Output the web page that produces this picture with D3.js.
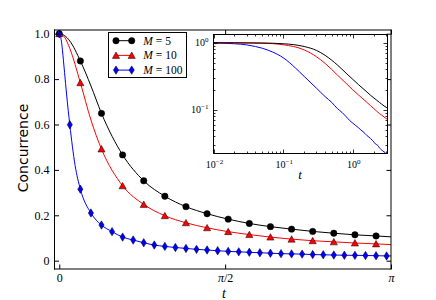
<!DOCTYPE html>
<html>
<head>
<meta charset="utf-8">
<script src="https://cdn.jsdelivr.net/npm/d3@7"></script>
<style>
  body { margin: 0; background: #fff; }
  svg { display: block; }
</style>
</head>
<body>
<svg id="chart" width="436" height="300"></svg>
<script>
// marker readings, M=5 and M=10 share the same t grid
var tMarks = [0, 0.2, 0.4, 0.6, 0.8, 1.0, 1.2, 1.4, 1.6, 1.8, 2.0, 2.2, 2.4, 2.6, 2.8, 3.0];
var concM5 = [1.0, 0.880, 0.649, 0.466, 0.352, 0.284, 0.238, 0.207, 0.183, 0.164, 0.150, 0.139, 0.129, 0.121, 0.114, 0.109];
var concM10 = [1.0, 0.784, 0.492, 0.330, 0.248, 0.198, 0.167, 0.145, 0.128, 0.115, 0.104, 0.095, 0.088, 0.083, 0.078, 0.074];
var tMarks100 = [0, 0.1, 0.2, 0.3, 0.4, 0.5, 0.6, 0.7, 0.8, 0.9, 1.0, 1.1, 1.2, 1.3, 1.4, 1.5,
                 1.6, 1.7, 1.8, 1.9, 2.0, 2.1, 2.2, 2.3, 2.4, 2.5, 2.6, 2.7, 2.8, 2.9, 3.0, 3.1];
var concM100 = [1.0, 0.599, 0.315, 0.210, 0.157, 0.128, 0.104, 0.091, 0.079, 0.069, 0.063, 0.058, 0.054, 0.050, 0.047, 0.044,
                0.041, 0.039, 0.037, 0.035, 0.033, 0.031, 0.030, 0.029, 0.027, 0.026, 0.025, 0.024, 0.0235, 0.023, 0.022, 0.021];

// extra readings of the solid curves between / beyond the markers
var lineT5 = [0.01, 0.02, 0.05, 0.1, 0.3, Math.PI];
var lineC5 = [1.0, 0.999, 0.992, 0.968, 0.77, 0.105];
var lineT10 = [0.01, 0.02, 0.05, 0.1, 0.3, Math.PI];
var lineC10 = [1.0, 0.998, 0.985, 0.935, 0.62, 0.071];
var lineT100 = [0.01, 0.02, 0.03, 0.04, 0.05, 0.07, 0.15, Math.PI];
var lineC100 = [0.992, 0.968, 0.93, 0.88, 0.83, 0.73, 0.42, 0.021];

var legendLabels = ["5", "10", "100"];
var yTicks = [0, 0.2, 0.4, 0.6, 0.8, 1.0];
var xTicks = [0, Math.PI / 2, Math.PI];
var xTickLabels = ["0", "π/2", "π"];

var series = [
  { t: tMarks, c: concM5, lt: lineT5, lc: lineC5, color: "#000000", marker: "circle" },
  { t: tMarks, c: concM10, lt: lineT10, lc: lineC10, color: "#ff0000", marker: "triangle" },
  { t: tMarks100, c: concM100, lt: lineT100, lc: lineC100, color: "#0000ff", marker: "diamond" }
];
series.forEach(function (s) {
  s.marks = d3.zip(s.t, s.c);
  s.line = s.marks.concat(d3.zip(s.lt, s.lc)).sort(function (a, b) { return a[0] - b[0]; });
});

var svg = d3.select("#chart");
var serif = "'Liberation Serif', 'DejaVu Serif', serif";

// main axes
var x = d3.scaleLinear().domain([-0.045, Math.PI]).range([54.5, 391]);
var y = d3.scaleLinear().domain([-0.0366, 1.0163]).range([269, 30]);

function markerPath(kind) {
  if (kind === "circle") return d3.symbol(d3.symbolCircle, Math.PI * 3.2 * 3.2)();
  if (kind === "triangle") return "M0,-3.4L3.6,3L-3.6,3Z";
  return "M0,-4.2L2.6,0L0,4.2L-2.6,0Z";
}

svg.append("clipPath").attr("id", "mainClip")
  .append("rect").attr("x", 54.5).attr("y", 30).attr("width", 391 - 54.5).attr("height", 269 - 30);

var line = d3.line()
  .x(function (d) { return x(d[0]); })
  .y(function (d) { return y(d[1]); })
  .curve(d3.curveMonotoneX);

var plot = svg.append("g").attr("clip-path", "url(#mainClip)");
series.forEach(function (s) {
  plot.append("path").datum(s.line)
    .attr("d", line)
    .attr("fill", "none")
    .attr("stroke", s.color)
    .attr("stroke-width", 1);
});
series.forEach(function (s) {
  plot.selectAll(null).data(s.marks).enter().append("path")
    .attr("d", markerPath(s.marker))
    .attr("transform", function (d) { return "translate(" + x(d[0]) + "," + y(d[1]) + ")"; })
    .attr("fill", s.color)
    .attr("stroke", "#000")
    .attr("stroke-width", 0.5);
});

// ticks (inward, on all four sides)
function styleAxis(g) {
  g.select(".domain").remove();
  g.selectAll("text").attr("font-family", serif).attr("font-size", 12).attr("fill", "#000");
  g.selectAll("line").attr("stroke", "#000");
}
svg.append("g").attr("transform", "translate(54.5,0)")
  .call(d3.axisLeft(y).tickValues(yTicks).tickSize(-4.5).tickPadding(5)
    .tickFormat(function (d) { return d === 0 ? "0" : d.toFixed(1); }))
  .call(styleAxis);
svg.append("g").attr("transform", "translate(391,0)")
  .call(d3.axisRight(y).tickValues(yTicks).tickSize(-4.5).tickFormat(""))
  .call(styleAxis);
var xAxisG = svg.append("g").attr("transform", "translate(0,269)")
  .call(d3.axisBottom(x).tickValues(xTicks).tickSize(-4.5).tickPadding(4).tickFormat(""))
  .call(styleAxis);
svg.append("g").attr("transform", "translate(0,30)")
  .call(d3.axisTop(x).tickValues(xTicks).tickSize(-4.5).tickFormat(""))
  .call(styleAxis);

xAxisG.selectAll(".tick").each(function (d, i) {
  var txt = d3.select(this).append("text")
    .attr("y", 12.5).attr("text-anchor", "middle")
    .attr("font-family", serif).attr("font-size", 12).attr("fill", "#000");
  var lab = xTickLabels[i];
  if (lab.charAt(0) === "π") {
    txt.append("tspan").attr("font-style", "italic").text("π");
    if (lab.length > 1) txt.append("tspan").text(lab.slice(1));
  } else {
    txt.text(lab);
  }
});

// spines
svg.append("line").attr("x1", 54.5).attr("x2", 54.5).attr("y1", 29.5).attr("y2", 269.5).attr("stroke", "#000");
svg.append("line").attr("x1", 54).attr("x2", 391.5).attr("y1", 269).attr("y2", 269).attr("stroke", "#000");
svg.append("line").attr("x1", 54).attr("x2", 391.5).attr("y1", 30).attr("y2", 30).attr("stroke", "#000");
svg.append("line").attr("x1", 391).attr("x2", 391).attr("y1", 29.5).attr("y2", 269.5).attr("stroke", "#000");

// axis labels
svg.append("text")
  .attr("transform", "translate(27.5,148) rotate(-90)")
  .attr("text-anchor", "middle")
  .attr("font-family", "'DejaVu Sans', sans-serif").attr("font-size", 14)
  .text("Concurrence");
svg.append("text")
  .attr("x", 224).attr("y", 298)
  .attr("text-anchor", "middle")
  .attr("font-family", serif).attr("font-size", 14).attr("font-style", "italic")
  .text("t");

// legend
var leg = svg.append("g");
leg.append("rect").attr("x", 108.5).attr("y", 32.5).attr("width", 78).attr("height", 45)
  .attr("fill", "#fff").attr("stroke", "#000").attr("stroke-width", 1);
series.forEach(function (s, i) {
  var ly = 40.7 + i * 14.7;
  leg.append("line").attr("x1", 116).attr("x2", 131.7).attr("y1", ly).attr("y2", ly)
    .attr("stroke", s.color).attr("stroke-width", 1);
  [116, 131.7].forEach(function (lx) {
    leg.append("path").attr("d", markerPath(s.marker))
      .attr("transform", "translate(" + lx + "," + ly + ")")
      .attr("fill", s.color).attr("stroke", "#000").attr("stroke-width", 0.5);
  });
  var t = leg.append("text").attr("x", 143.3).attr("y", ly + 4)
    .attr("font-family", serif).attr("font-size", 11.5);
  t.append("tspan").attr("font-style", "italic").text("M");
  t.append("tspan").text(" = " + legendLabels[i]);
});

// inset, log-log
var ix = d3.scaleLog().domain([0.01, Math.PI]).range([213.5, 387.5]);
var iy = d3.scaleLog().domain([0.0222, 1.33]).range([153.5, 34.5]);

var inset = svg.append("g");
inset.append("rect").attr("x", 213.5).attr("y", 34.5).attr("width", 174).attr("height", 119)
  .attr("fill", "#fff");
svg.append("clipPath").attr("id", "insetClip")
  .append("rect").attr("x", 213.5).attr("y", 34.5).attr("width", 174).attr("height", 119);

var iline = d3.line()
  .x(function (d) { return ix(d[0]); })
  .y(function (d) { return iy(d[1]); })
  .curve(d3.curveMonotoneX);
var ig = inset.append("g").attr("clip-path", "url(#insetClip)");
series.slice().reverse().forEach(function (s) {
  ig.append("path").datum(s.line.filter(function (d) { return d[0] >= 0.01; }))
    .attr("d", iline)
    .attr("fill", "none")
    .attr("stroke", s.color)
    .attr("stroke-width", 1);
});

var xMajor = [0.01, 0.1, 1];
var yMajor = [0.1, 1];
function minors(scale) {
  var dom = scale.domain(), out = [];
  [0.01, 0.1, 1].forEach(function (dec) {
    for (var k = 2; k <= 9; k++) {
      var v = dec * k;
      if (v > dom[0] && v < dom[1]) out.push(v);
    }
  });
  return out;
}
function tickSet(vals, len, axis) {
  vals.forEach(function (v) {
    if (axis === "x") {
      var px = Math.round(ix(v)) + 0.5;
      inset.append("line").attr("x1", px).attr("x2", px).attr("y1", 153.5).attr("y2", 153.5 - len).attr("stroke", "#000").attr("stroke-width", 0.8);
      inset.append("line").attr("x1", px).attr("x2", px).attr("y1", 34.5).attr("y2", 34.5 + len).attr("stroke", "#000").attr("stroke-width", 0.8);
    } else {
      var py = Math.round(iy(v)) + 0.5;
      inset.append("line").attr("x1", 213.5).attr("x2", 213.5 + len).attr("y1", py).attr("y2", py).attr("stroke", "#000").attr("stroke-width", 0.8);
      inset.append("line").attr("x1", 387.5).attr("x2", 387.5 - len).attr("y1", py).attr("y2", py).attr("stroke", "#000").attr("stroke-width", 0.8);
    }
  });
}
tickSet(xMajor, 4, "x");
tickSet(minors(ix), 2, "x");
tickSet(yMajor, 4, "y");
tickSet(minors(iy), 2, "y");

inset.append("rect").attr("x", 213.5).attr("y", 34.5).attr("width", 174).attr("height", 119)
  .attr("fill", "none").attr("stroke", "#000").attr("stroke-width", 1);

function powLabel(g, px, py, anchor, exp) {
  var t = g.append("text").attr("x", px).attr("y", py).attr("text-anchor", anchor)
    .attr("font-family", serif).attr("font-size", 10).attr("fill", "#000");
  t.append("tspan").text("10");
  t.append("tspan").attr("dy", -4).attr("font-size", 7).text(exp);
}
xMajor.forEach(function (v) {
  powLabel(inset, ix(v) + 1, 167.5, "middle", v === 1 ? "0" : "−" + Math.round(-Math.log10(v)));
});
yMajor.forEach(function (v) {
  powLabel(inset, 208.5, iy(v) + 3.5, "end", v === 1 ? "0" : "−" + Math.round(-Math.log10(v)));
});
inset.append("text").attr("x", 300).attr("y", 178.5).attr("text-anchor", "middle")
  .attr("font-family", serif).attr("font-size", 13).attr("font-style", "italic")
  .text("t");
</script>
</body>
</html>
